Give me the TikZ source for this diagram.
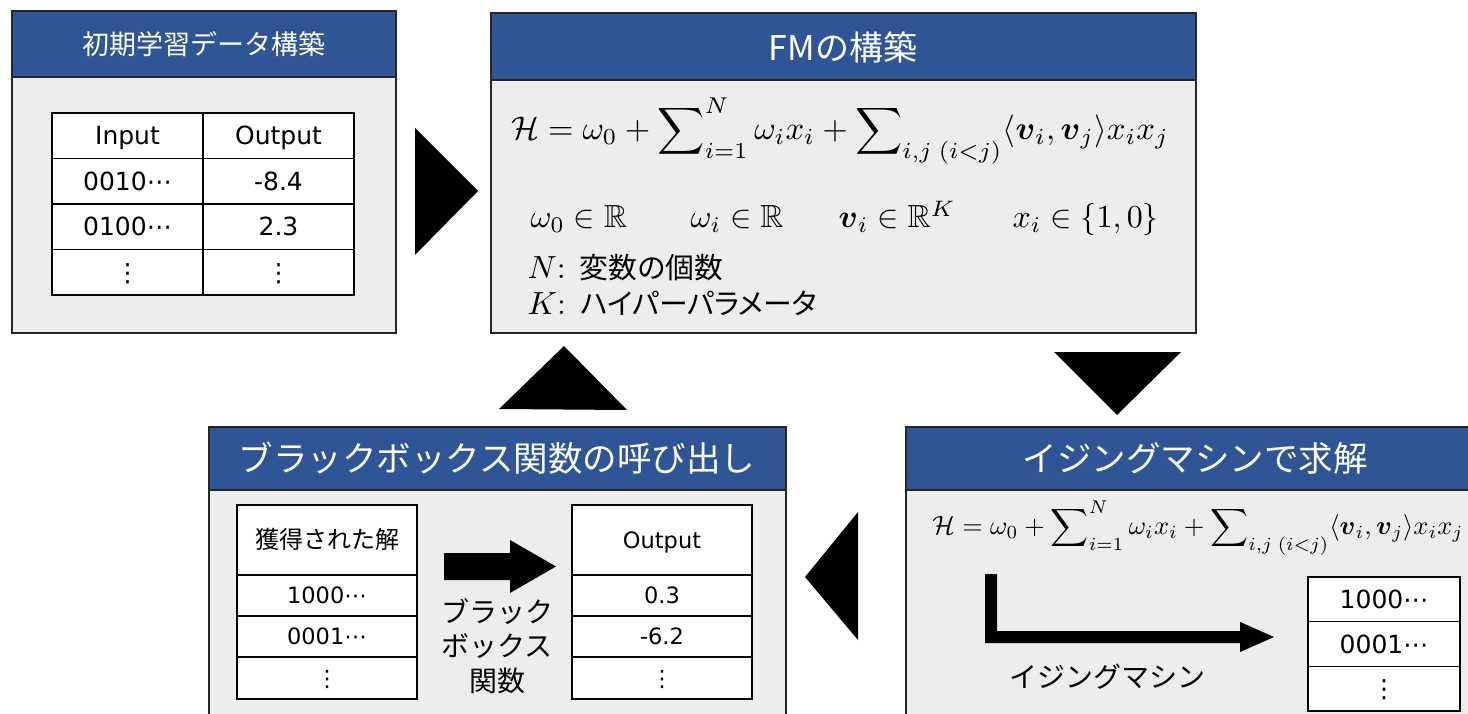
\documentclass[tikz,border=0pt]{standalone}
\usepackage{amsmath,amssymb}
\usepackage{fontspec}
\newfontfamily\ja{Noto Sans CJK JP}
\newfontfamily\jap[RawFeature=+palt]{Noto Sans CJK JP}
\newfontfamily\lat{DejaVu Sans}
\definecolor{hdr}{HTML}{2F5597}
\definecolor{bodyg}{HTML}{EDEDED}
\newcommand{\mdots}{{\lat ⋯}}
\newcommand{\vdts}{{\lat ⋮}}
\tikzset{
  pbody/.style={draw=black!85, fill=bodyg, line width=1.6pt},
  phdr/.style={draw=black!85, fill=hdr, line width=1.6pt},
  ttl/.style={text=white, inner sep=0pt, font=\ja\fontsize{#1}{#1}\selectfont},
  mth/.style={scale=#1, transform shape, inner sep=0pt},
  cell/.style={draw=black, fill=white, line width=1.3pt, inner sep=0pt},
  cellA/.style={cell, minimum width=151pt, minimum height=45.5pt, text height=18pt, text depth=0pt, font=\lat\fontsize{25}{25}\selectfont},
  cellC/.style={cell, minimum width=180pt, minimum height=41pt, text height=16.5pt, text depth=0pt, font=\lat\fontsize{22.5}{22.5}\selectfont},
  cellD/.style={cell, minimum width=152pt, minimum height=44.7pt, text height=18pt, text depth=0pt, font=\lat\fontsize{25}{25}\selectfont},
  solid shape/.style={fill=black}
}
\begin{document}
\begin{tikzpicture}[x=1pt,y=-1pt]
\useasboundingbox (0,0) rectangle (1468,714);
\fill[white] (0,0) rectangle (1468,714);

% ---------- Panel A ----------
\draw[pbody] (12,11) rectangle (396,333);
\draw[phdr] (12,11) rectangle (396,77);
\node[ttl=27] (tA) at (204,44) {初期学習データ構築};
\node[cellA] (a11) at (127.5,135.75) {Input};
\node[cellA] (a12) at (278.5,135.75) {Output};
\node[cellA] (a21) at (127.5,181.25) {0010\mdots};
\node[cellA] (a22) at (278.5,181.25) {-8.4};
\node[cellA] (a31) at (127.5,226.75) {0100\mdots};
\node[cellA] (a32) at (278.5,226.75) {2.3};
\node[cellA] (a41) at (127.5,272.25) {\vdts};
\node[cellA] (a42) at (278.5,272.25) {\vdts};

% ---------- Panel B ----------
\draw[pbody] (491,13) rectangle (1196,333);
\draw[phdr] (491,13) rectangle (1196,80);
\node[ttl=34] (tB) at (843,47) {FMの構築};
\node[mth=3.27] (fB) at (840,131) {$\displaystyle \mathcal{H} = \omega_0 + \sum\nolimits_{i=1}^{N}\omega_i x_i + \sum\nolimits_{i,j\;(i<j)}\langle\boldsymbol{v}_i,\boldsymbol{v}_j\rangle x_i x_j$};
\node[mth=3.2, anchor=base west] (e1) at (530,228) {$\omega_0\in\mathbb{R}$};
\node[mth=3.2, anchor=base west] (e2) at (690,228) {$\omega_i\in\mathbb{R}$};
\node[mth=3.2, anchor=base west] (e3) at (838,228) {$\boldsymbol{v}_i\in\mathbb{R}^K$};
\node[mth=3.2, anchor=base west] (e4) at (1012,228) {$x_i\in\{1,0\}$};
\node[mth=3.2, anchor=base west] (nN) at (527,279) {$N$: {\jap\fontsize{9}{11}\selectfont 変数の個数}};
\node[mth=3.2, anchor=base west] (nK) at (527,315) {$K$: {\jap\fontsize{9}{11}\selectfont ハイパーパラメータ}};

% ---------- Panel C ----------
\draw[pbody] (209,427) rectangle (786,740);
\draw[phdr] (209,427) rectangle (786,490);
\node[ttl=34.5] (tC) at (497,458) {ブラックボックス関数の呼び出し};
\node[cellC, minimum height=70pt, font=\ja\fontsize{24}{24}\selectfont] (c11) at (327,540) {獲得された解};
\node[cellC] (c12) at (327,595.5) {1000\mdots};
\node[cellC] (c13) at (327,636.5) {0001\mdots};
\node[cellC, minimum height=42pt] (c14) at (327,678) {\vdts};
\node[cellC, minimum height=70pt] (c21) at (662,540) {Output};
\node[cellC] (c22) at (662,595.5) {0.3};
\node[cellC] (c23) at (662,636.5) {-6.2};
\node[cellC, minimum height=42pt] (c24) at (662,678) {\vdts};
\fill[solid shape] (444,553) -- (510,553) -- (510,540) -- (556,566.5) -- (510,593) -- (510,580) -- (444,580) -- cycle;
\node[font=\ja\fontsize{28}{34.5}\selectfont, align=center] (bbf) at (497,646) {ブラック\\ボックス\\関数};

% ---------- Panel D ----------
\draw[pbody] (906,427) rectangle (1490,740);
\draw[phdr] (906,427) rectangle (1490,490);
\node[ttl=34.5] (tD) at (1195,458) {イジングマシンで求解};
\node[mth=2.64] (fD) at (1198,528) {$\displaystyle \mathcal{H} = \omega_0 + \sum\nolimits_{i=1}^{N}\omega_i x_i + \sum\nolimits_{i,j\;(i<j)}\langle\boldsymbol{v}_i,\boldsymbol{v}_j\rangle x_i x_j$};
\fill[solid shape] (985,574) -- (997,574) -- (997,631) -- (1240,631) -- (1240,622) -- (1274,637) -- (1240,652) -- (1240,643) -- (985,643) -- cycle;
\node[font=\ja\fontsize{28}{28}\selectfont] (im) at (1107,677) {イジングマシン};
\node[cellD] (d1) at (1384,599.3) {1000\mdots};
\node[cellD] (d2) at (1384,644) {0001\mdots};
\node[cellD] (d3) at (1384,688.7) {\vdts};

% ---------- flow triangles ----------
\fill[solid shape] (415,128) -- (478,191) -- (415,255) -- cycle;
\fill[solid shape] (1054,352) -- (1181,352) -- (1117,415) -- cycle;
\fill[solid shape] (858,512) -- (805,577) -- (858,640) -- cycle;
\fill[solid shape] (499,409) -- (564,346) -- (627,410) -- cycle;
\end{tikzpicture}
\end{document}
